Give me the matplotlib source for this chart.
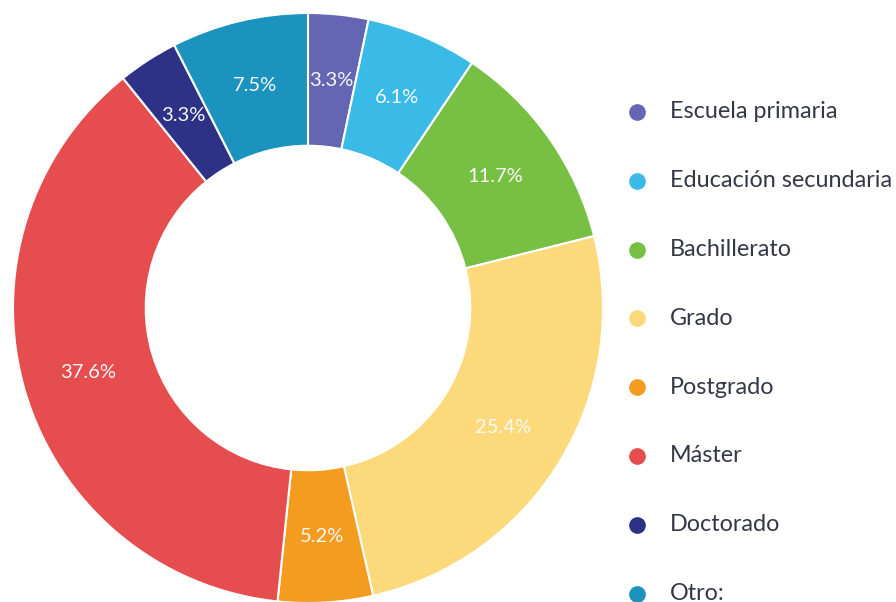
import matplotlib
matplotlib.use("Agg")
import matplotlib.pyplot as plt
from matplotlib.lines import Line2D

categories = ["Escuela primaria", "Educación secundaria", "Bachillerato", "Grado",
              "Postgrado", "Máster", "Doctorado", "Otro:"]
values = [3.3, 6.1, 11.7, 25.4, 5.2, 37.6, 3.3, 7.5]
colors = ["#6466B4", "#3ABAE6", "#78C043", "#FCD97A",
          "#F39C20", "#E54D4F", "#2E3287", "#1B93BE"]

W, H = 896, 602
fig = plt.figure(figsize=(W / 100, H / 100), dpi=100)
fig.patch.set_facecolor("white")

cx, cy, r = 308, 308, 295
ax = fig.add_axes([(cx - r) / W, (H - cy - r) / H, 2 * r / W, 2 * r / H])
wedges, texts, autotexts = ax.pie(
    values, colors=colors, startangle=90, counterclock=False,
    radius=1.0, autopct=lambda p: f"{p:.1f}%", pctdistance=0.776,
    wedgeprops=dict(width=0.45, edgecolor="white", linewidth=1.5),
    textprops=dict(color="#f8f8f8", fontsize=14.5, family="Lato"))
for t, v in zip(autotexts, values):
    t.set_text(f"{v:.1f}%")
ax.set_xlim(-1, 1)
ax.set_ylim(-1, 1)
ax.set_aspect("equal")
ax.axis("off")

# legend
y0, dy = 112, 68.8
for i, (cat, col) in enumerate(zip(categories, colors)):
    y = 1 - (y0 + i * dy) / H
    fig.add_artist(Line2D([637 / W], [y], marker="o", markersize=11,
                          color=col, linestyle="none",
                          transform=fig.transFigure))
    fig.text(670 / W, y, cat, fontsize=16.8, family="Lato", color="#333844",
             va="center", ha="left")

fig.savefig("out.png", dpi=100, facecolor="white")
